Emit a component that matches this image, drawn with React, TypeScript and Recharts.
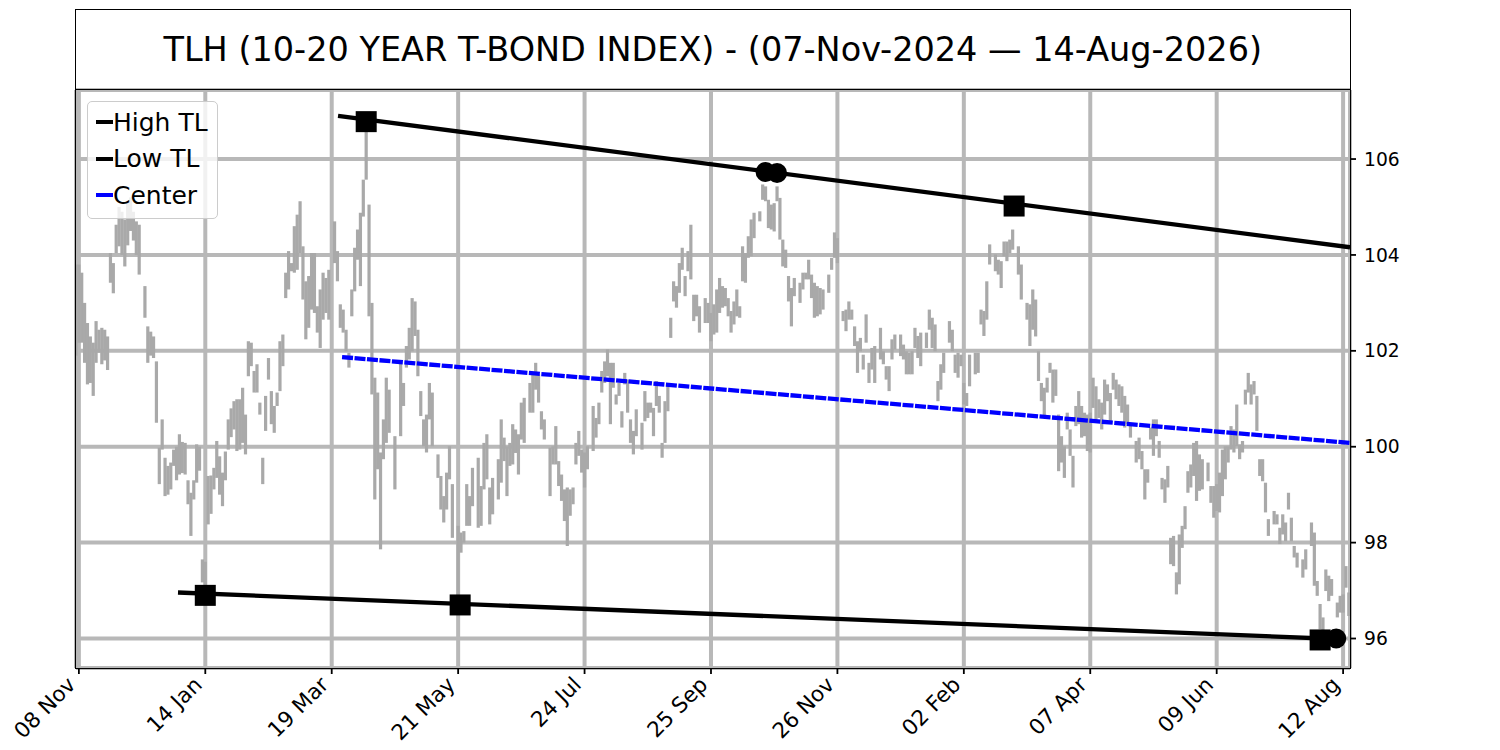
import React from 'react';
import {
  ComposedChart,
  Bar,
  Line,
  Scatter,
  XAxis,
  YAxis,
  CartesianGrid,
  Legend,
} from 'recharts';

// TLH daily high-low ranges: [trading day, low, high]
const barsNovJan: [number, number, number][] = [
  [0, 101.9, 103.8], [1, 102.17, 103.8], [2, 102.17, 103.63], [3, 101.75, 103.0], [4, 101.3, 102.58],
  [5, 101.33, 102.3], [6, 101.06, 102.17], [7, 101.75, 102.62], [8, 101.96, 102.44], [9, 101.72, 102.48],
  [10, 101.8, 102.44], [11, 101.6, 102.3], [12, 103.42, 104.04], [13, 103.2, 103.83], [14, 104.04, 104.63],
  [15, 104.18, 105.0], [16, 104.0, 104.9], [17, 103.76, 104.74], [18, 104.2, 105.1], [19, 104.5, 105.2],
  [20, 104.3, 104.9], [21, 104.0, 104.7], [22, 103.59, 104.63], [24, 102.69, 103.35], [25, 101.75, 102.51],
  [26, 101.9, 102.4], [27, 101.85, 102.3], [28, 100.5, 101.78], [29, 99.22, 99.98], [30, 99.94, 100.57],
  [31, 98.97, 99.77], [32, 99.0, 99.6], [33, 99.11, 99.67], [34, 99.6, 99.94], [35, 99.3, 100.0],
  [36, 99.42, 100.26], [37, 99.45, 100.1], [38, 99.42, 100.08], [39, 98.8, 99.3], [40, 98.14, 99.04],
  [41, 98.9, 99.3], [42, 99.25, 100.05], [43, 99.5, 100.0], [44, 97.17, 97.65], [45, 96.95, 97.6],
  [46, 98.38, 99.39], [47, 98.6, 99.4], [48, 99.11, 99.56], [49, 99.35, 100.12], [50, 99.0, 99.8],
  [51, 98.76, 99.46], [52, 99.3, 99.9], [53, 99.94, 100.57], [54, 100.2, 100.8], [55, 100.36, 100.95],
];

const barsJanMay: [number, number, number][] = [
  [56, 99.91, 100.99], [57, 99.94, 100.99], [58, 100.08, 101.23], [59, 99.84, 100.67], [60, 101.47, 102.2],
  [61, 101.68, 102.17], [62, 101.13, 101.58], [63, 101.13, 101.72], [64, 100.67, 100.92], [65, 99.22, 99.77],
  [66, 100.33, 101.06], [67, 101.4, 101.85], [68, 100.47, 101.16], [69, 100.29, 100.85], [70, 100.85, 101.13],
  [71, 101.16, 102.2], [72, 101.68, 102.34], [73, 103.1, 103.63], [74, 103.28, 104.08], [75, 103.66, 103.83],
  [76, 103.63, 104.6], [77, 103.69, 104.84], [78, 104.04, 105.12], [79, 103.07, 104.18], [80, 102.24, 103.45],
  [81, 102.48, 103.56], [82, 102.86, 104.04], [83, 102.79, 104.04], [84, 102.38, 102.93], [85, 102.06, 103.28],
  [86, 102.65, 103.63], [87, 102.79, 103.52], [88, 102.65, 103.69], [90, 103.83, 104.7], [91, 103.45, 104.08],
  [92, 102.48, 102.97], [93, 102.38, 102.86], [94, 101.99, 102.44], [95, 101.65, 101.96], [96, 102.72, 103.28],
  [97, 103.24, 104.15], [98, 103.9, 104.53], [99, 103.35, 104.88], [100, 104.8, 105.57], [101, 105.57, 106.8],
  [102, 102.72, 105.05], [103, 101.09, 103.0], [104, 98.9, 101.44], [105, 99.53, 101.13], [106, 97.86, 99.88],
  [107, 99.74, 100.57], [108, 100.08, 101.44], [109, 100.29, 101.19], [111, 99.11, 100.22],
];

const barsMayJul: [number, number, number][] = [
  [113, 100.22, 101.78], [114, 100.85, 101.33], [115, 101.65, 102.1], [116, 101.82, 102.48], [117, 101.99, 103.1],
  [118, 102.31, 103.03], [119, 101.47, 102.44], [120, 100.64, 101.16], [121, 100.01, 100.57], [122, 99.88, 100.67],
  [123, 100.57, 101.33], [124, 100.01, 101.13], [126, 99.35, 99.84], [127, 98.69, 99.39], [128, 98.42, 98.97],
  [129, 98.69, 99.46], [130, 99.32, 100.01], [131, 98.1, 99.22], [133, 96.9, 98.35], [134, 97.79, 98.21],
  [135, 98.0, 98.24], [136, 98.35, 99.22], [137, 98.35, 98.97], [138, 98.76, 99.56], [140, 98.31, 99.77],
  [141, 98.35, 99.18], [142, 99.11, 100.08], [143, 99.32, 100.26], [144, 98.38, 99.15], [145, 98.59, 99.35],
  [147, 98.9, 99.74], [148, 99.25, 100.57], [149, 99.7, 100.19], [150, 98.97, 100.01], [151, 99.6, 100.08],
  [152, 99.63, 100.47], [153, 99.87, 100.36], [154, 99.42, 100.26], [155, 100.15, 100.92], [156, 100.08, 101.02],
  [158, 100.71, 101.33], [159, 100.71, 101.51], [160, 101.19, 101.75], [161, 100.92, 101.51], [162, 100.36, 100.74],
  [163, 100.15, 100.57], [165, 98.97, 99.98], [166, 99.63, 100.01], [167, 99.63, 100.43],
];

const barsJulSep: [number, number, number][] = [
  [168, 99.18, 99.7], [169, 98.87, 99.42], [170, 98.45, 99.11], [171, 97.93, 99.15], [172, 98.56, 99.11],
  [173, 98.8, 99.15], [174, 99.63, 100.08], [175, 99.81, 100.33], [176, 99.46, 99.94], [177, 99.15, 99.88],
  [178, 99.53, 100.01], [180, 99.91, 100.85], [181, 100.19, 100.6], [182, 100.47, 100.92], [183, 101.13, 101.58],
  [184, 101.33, 101.78], [185, 101.47, 102.03], [186, 100.47, 101.75], [187, 101.23, 101.75], [188, 100.88, 101.09],
  [189, 101.06, 101.33], [190, 100.4, 100.74], [191, 101.3, 101.54], [192, 100.71, 101.4], [193, 100.08, 100.57],
  [194, 99.84, 100.33], [195, 100.22, 100.78], [197, 99.94, 100.5], [198, 100.53, 101.16], [199, 100.6, 100.92],
  [200, 100.71, 100.92], [201, 100.22, 100.81], [202, 100.85, 101.37], [203, 100.71, 101.06], [204, 99.77, 100.08],
  [205, 100.08, 100.95], [206, 100.74, 101.33], [207, 102.27, 102.69], [208, 103.03, 103.45], [209, 102.9, 103.35],
  [210, 103.21, 103.83], [211, 103.69, 104.15], [212, 103.14, 103.56], [213, 103.66, 104.08], [214, 103.49, 104.63],
  [215, 102.62, 103.17], [216, 102.72, 103.17], [217, 102.38, 102.93], [219, 102.58, 103.1], [220, 102.58, 103.0],
  [221, 102.2, 102.79], [222, 102.34, 102.97],
];

const barsSepNov: [number, number, number][] = [
  [223, 102.38, 103.28], [224, 102.79, 103.52], [225, 102.9, 103.35], [226, 102.93, 103.31], [227, 102.72, 103.1],
  [228, 102.38, 102.83], [229, 102.55, 103.03], [230, 102.72, 103.28], [231, 102.69, 102.93], [232, 103.45, 104.18],
  [233, 103.42, 104.04], [234, 103.94, 104.39], [235, 103.97, 104.74], [236, 104.35, 104.88], [238, 104.7, 104.91],
  [239, 105.15, 105.47], [240, 105.12, 105.43], [241, 104.56, 105.15], [242, 104.53, 105.05], [243, 104.49, 105.08],
  [244, 105.12, 105.43], [245, 104.32, 105.19], [246, 103.76, 104.32], [247, 103.73, 104.11], [248, 103.03, 103.56],
  [249, 102.51, 103.31], [250, 103.14, 103.52], [252, 103.0, 103.42], [253, 103.28, 103.63], [254, 103.49, 103.63],
  [255, 103.49, 103.9], [256, 103.1, 103.59], [257, 102.69, 103.42], [258, 102.72, 103.35], [259, 102.76, 103.31],
  [260, 102.86, 103.28], [262, 103.21, 103.59], [263, 103.69, 103.94], [264, 103.94, 104.47], [265, 103.83, 104.35],
  [267, 102.62, 102.83], [268, 102.41, 102.86], [269, 102.65, 103.03], [270, 102.65, 102.86], [271, 102.1, 102.51],
  [272, 101.54, 102.2], [273, 101.99, 102.27], [274, 101.61, 101.92], [275, 102.17, 102.76], [276, 101.33, 101.75],
  [277, 101.61, 102.06], [278, 101.33, 102.1],
];

const barsNovFeb: [number, number, number][] = [
  [280, 101.82, 102.48], [281, 101.72, 101.99], [282, 101.4, 101.68], [283, 101.16, 101.68], [284, 101.82, 102.24],
  [285, 102.03, 102.34], [287, 101.89, 102.34], [288, 101.82, 102.13], [289, 101.51, 101.99], [290, 101.51, 101.96],
  [291, 101.51, 101.99], [292, 102.06, 102.48], [293, 101.85, 102.31], [294, 101.68, 102.38], [296, 102.06, 102.38],
  [297, 102.44, 102.86], [298, 102.06, 102.69], [299, 101.99, 102.55], [300, 100.95, 101.37], [301, 101.19, 101.72],
  [302, 101.54, 101.96], [304, 102.17, 102.62], [305, 101.99, 102.44], [306, 101.54, 101.92], [307, 101.44, 101.96],
  [308, 101.68, 101.92], [309, 100.88, 101.33], [310, 100.85, 101.12], [311, 101.26, 101.92], [313, 101.51, 101.96],
  [314, 101.54, 101.96], [315, 102.55, 102.86], [316, 102.31, 102.83], [317, 102.65, 103.45], [318, 103.8, 104.22],
  [320, 103.66, 104.01], [321, 103.59, 103.9], [322, 103.31, 103.87], [323, 103.97, 104.28], [324, 103.87, 104.28],
  [325, 104.04, 104.32], [326, 104.11, 104.53], [328, 103.59, 104.18], [329, 103.07, 103.8], [331, 102.65, 103.0],
  [332, 102.1, 102.97], [333, 102.44, 103.28], [334, 102.3, 103.07],
];

const barsFebJun: [number, number, number][] = [
  [335, 101.37, 101.99], [336, 100.95, 101.33], [337, 100.6, 101.23], [338, 101.13, 101.44], [339, 101.54, 101.75],
  [340, 100.92, 101.61], [341, 101.06, 101.61], [342, 99.49, 100.67], [343, 99.67, 100.22], [344, 99.35, 100.01],
  [345, 100.36, 100.71], [346, 99.81, 100.36], [347, 99.15, 99.81], [348, 100.43, 100.85], [349, 100.47, 101.16],
  [350, 100.19, 100.85], [351, 100.22, 100.71], [352, 99.91, 100.67], [353, 99.88, 100.71], [354, 100.81, 101.44],
  [355, 100.5, 101.26], [356, 100.6, 100.99], [357, 100.36, 100.92], [358, 100.67, 101.4], [359, 100.95, 101.3],
  [360, 100.5, 101.12], [361, 101.19, 101.54], [362, 100.99, 101.4], [363, 100.85, 101.3], [364, 100.71, 101.26],
  [365, 100.4, 101.06], [366, 100.47, 100.88], [367, 100.19, 100.47], [369, 99.67, 100.12], [370, 99.74, 100.19],
  [371, 99.53, 99.91], [372, 98.9, 99.53], [373, 99.25, 99.53], [374, 100.15, 100.4], [375, 99.81, 100.57],
  [376, 100.22, 100.57], [377, 99.77, 100.12], [378, 99.11, 99.35], [379, 98.83, 99.32], [380, 99.15, 99.6],
  [381, 97.55, 98.1], [382, 97.51, 98.14], [383, 96.92, 97.38], [384, 97.13, 98.17], [385, 97.89, 98.35],
  [386, 98.28, 98.76], [387, 99.04, 99.49], [388, 99.15, 99.63], [389, 99.39, 100.08],
];

const barsJunAug: [number, number, number][] = [
  [390, 98.87, 100.12], [391, 99.08, 99.84], [392, 99.11, 99.74], [394, 99.28, 99.67], [395, 98.83, 99.18],
  [396, 98.52, 99.18], [397, 98.66, 99.22], [398, 98.63, 99.46], [399, 98.97, 99.94], [400, 99.32, 100.01],
  [401, 99.67, 100.01], [402, 99.94, 100.43], [403, 99.88, 100.36], [404, 100.01, 100.88], [405, 99.74, 100.05],
  [406, 99.88, 100.12], [407, 100.88, 101.19], [408, 101.13, 101.54], [409, 100.88, 101.3], [410, 101.09, 101.37],
  [411, 100.33, 101.06], [412, 99.39, 99.74], [413, 99.28, 99.74], [414, 98.63, 99.25], [415, 98.14, 98.49],
  [417, 98.38, 98.66], [418, 98.38, 98.59], [419, 97.97, 98.31], [420, 98.17, 98.59], [421, 98.03, 98.42],
  [422, 98.69, 99.04], [423, 98.03, 98.52], [424, 97.69, 97.93], [425, 97.48, 97.79], [427, 97.27, 97.65],
  [428, 97.44, 97.86], [430, 97.93, 98.42], [431, 97.1, 98.21], [432, 96.89, 97.2], [433, 96.19, 96.72],
  [434, 96.02, 96.44], [435, 96.99, 97.44], [436, 96.78, 97.31], [437, 96.89, 97.24], [439, 96.44, 96.75],
  [440, 96.54, 96.89], [441, 96.54, 96.92], [442, 97.06, 97.51], [443, 96.47, 96.96],
];

// trend lines (day, value)
const highTL = [{ x: 91.2, y: 106.9 }, { x: 443.4, y: 104.16 }];
const lowTL = [{ x: 35.5, y: 96.96 }, { x: 438.6, y: 95.99 }];
const centerTL = [{ x: 92.6, y: 101.87 }, { x: 443.4, y: 100.08 }];

// pivot markers
const pivotSquares = [
  { x: 101, y: 106.78 }, { x: 326.5, y: 105.02 },
  { x: 45, y: 96.9 }, { x: 133.7, y: 96.7 }, { x: 433, y: 95.97 },
];
const pivotCircles = [{ x: 240, y: 105.73 }, { x: 244, y: 105.71 }, { x: 438.6, y: 96.0 }];

const xTickDays = [1, 45, 89, 133, 177, 221, 265, 309, 353, 397, 441];
const xTickLabels = ['08 Nov', '14 Jan', '19 Mar', '21 May', '24 Jul', '25 Sep', '26 Nov', '02 Feb', '07 Apr', '09 Jun', '12 Aug'];
const yTicks = [96, 98, 100, 102, 104, 106];

const legendNames = ['High TL', 'Low TL', 'Center'];
const legendColors = ['#000000', '#000000', '#0000ff'];

const TITLE = 'TLH (10-20 YEAR T-BOND INDEX) - (07-Nov-2024 \u2014 14-Aug-2026)';
const FONT = '"DejaVu Sans", sans-serif';

const bars = [
  ...barsNovJan, ...barsJanMay, ...barsMayJul, ...barsJulSep,
  ...barsSepNov, ...barsNovFeb, ...barsFebJun, ...barsJunAug,
].map(([d, lo, hi]) => ({ x: d, range: [lo, hi] }));

const XTick = ({ x, y, payload }: any) => {
  const i = xTickDays.indexOf(payload.value);
  const ax = x - 2;
  const ay = y + 10;
  return (
    <text
      x={ax}
      y={ay}
      transform={`rotate(-45, ${ax}, ${ay})`}
      textAnchor="end"
      fontSize={21.5}
      fontFamily={FONT}
      fill="#000"
    >
      {i >= 0 ? xTickLabels[i] : ''}
    </text>
  );
};

// high-low bar, centred on its day
const RangeBar = (p: any) => {
  if (p.height == null || p.width == null) return null;
  const cx = p.x + p.width / 2;
  return <rect x={cx - 1.6} y={p.y} width={3.2} height={Math.max(p.height, 1)} fill="#a9a9a9" />;
};

const SquareMark = (p: any) => (
  <rect x={p.cx - 10.5} y={p.cy - 10.5} width={21} height={21} fill="#000" />
);
const CircleMark = (p: any) => <circle cx={p.cx} cy={p.cy} r={10} fill="#000" />;

const LegendBox = () => (
  <div style={{
    boxSizing: 'border-box',
    width: 131,
    height: 118,
    background: 'rgba(255,255,255,0.8)',
    border: '1.3px solid #cccccc',
    borderRadius: 5,
    paddingTop: 2,
    fontFamily: FONT,
  }}>
    {legendNames.map((name, i) => (
      <div key={name} style={{ display: 'flex', alignItems: 'center', height: 36.5 }}>
        <span style={{ display: 'inline-block', width: 17, height: 4.3, marginLeft: 8, background: legendColors[i] }} />
        <span style={{ fontSize: 25, lineHeight: 1, color: '#000' }}>{name}</span>
      </div>
    ))}
  </div>
);

export default function App() {
  return (
    <div style={{ position: 'absolute', left: 0, top: 0, width: 1500, height: 750, background: '#fff' }}>
      <div style={{
        position: 'absolute',
        left: 75,
        top: 9,
        width: 1275.5,
        height: 81,
        boxSizing: 'border-box',
        border: '1.8px solid #000',
        display: 'flex',
        alignItems: 'center',
        justifyContent: 'center',
        fontFamily: FONT,
        fontSize: 33.5,
        color: '#000',
      }}>
        {TITLE}
      </div>
      <ComposedChart
        width={1500}
        height={750}
        data={bars}
        margin={{ top: 90, right: 90, bottom: 12, left: 76 }}
      >
        <CartesianGrid stroke="#b8b8b8" strokeWidth={4} />
        <XAxis
          type="number"
          dataKey="x"
          domain={[0, 443.4]}
          allowDataOverflow
          ticks={xTickDays}
          interval={0}
          height={70}
          tickSize={6}
          axisLine={false}
          tickLine={{ stroke: '#000', strokeWidth: 1.8 }}
          tick={<XTick />}
        />
        <YAxis
          orientation="right"
          type="number"
          domain={[95.385, 107.44]}
          allowDataOverflow
          ticks={yTicks}
          width={60}
          tickSize={6}
          tickMargin={8}
          axisLine={false}
          tickLine={{ stroke: '#000', strokeWidth: 1.8 }}
          tick={{ fontSize: 18.7, fill: '#000', fontFamily: FONT }}
        />
        <Bar dataKey="range" barSize={3} fill="#a9a9a9" shape={<RangeBar />} isAnimationActive={false} legendType="none" />
        <Line data={highTL} dataKey="y" stroke="#000" strokeWidth={4.3} dot={false} isAnimationActive={false} legendType="none" />
        <Line data={lowTL} dataKey="y" stroke="#000" strokeWidth={4.3} dot={false} isAnimationActive={false} legendType="none" />
        <Line data={centerTL} dataKey="y" stroke="#0000ff" strokeWidth={4.3} strokeDasharray="11 1.5" dot={false} isAnimationActive={false} legendType="none" />
        <Scatter data={pivotSquares} dataKey="y" shape={<SquareMark />} isAnimationActive={false} legendType="none" />
        <Scatter data={pivotCircles} dataKey="y" shape={<CircleMark />} isAnimationActive={false} legendType="none" />
        <Legend
          layout="vertical"
          align="center"
          verticalAlign="middle"
          content={<LegendBox />}
          wrapperStyle={{ left: 87, top: 101, width: 131, height: 118 }}
        />
      </ComposedChart>
      <div style={{
        position: 'absolute',
        left: 75.1,
        top: 89.1,
        width: 1275.8,
        height: 579.8,
        boxSizing: 'border-box',
        border: '1.8px solid #000',
        pointerEvents: 'none',
      }} />
    </div>
  );
}
